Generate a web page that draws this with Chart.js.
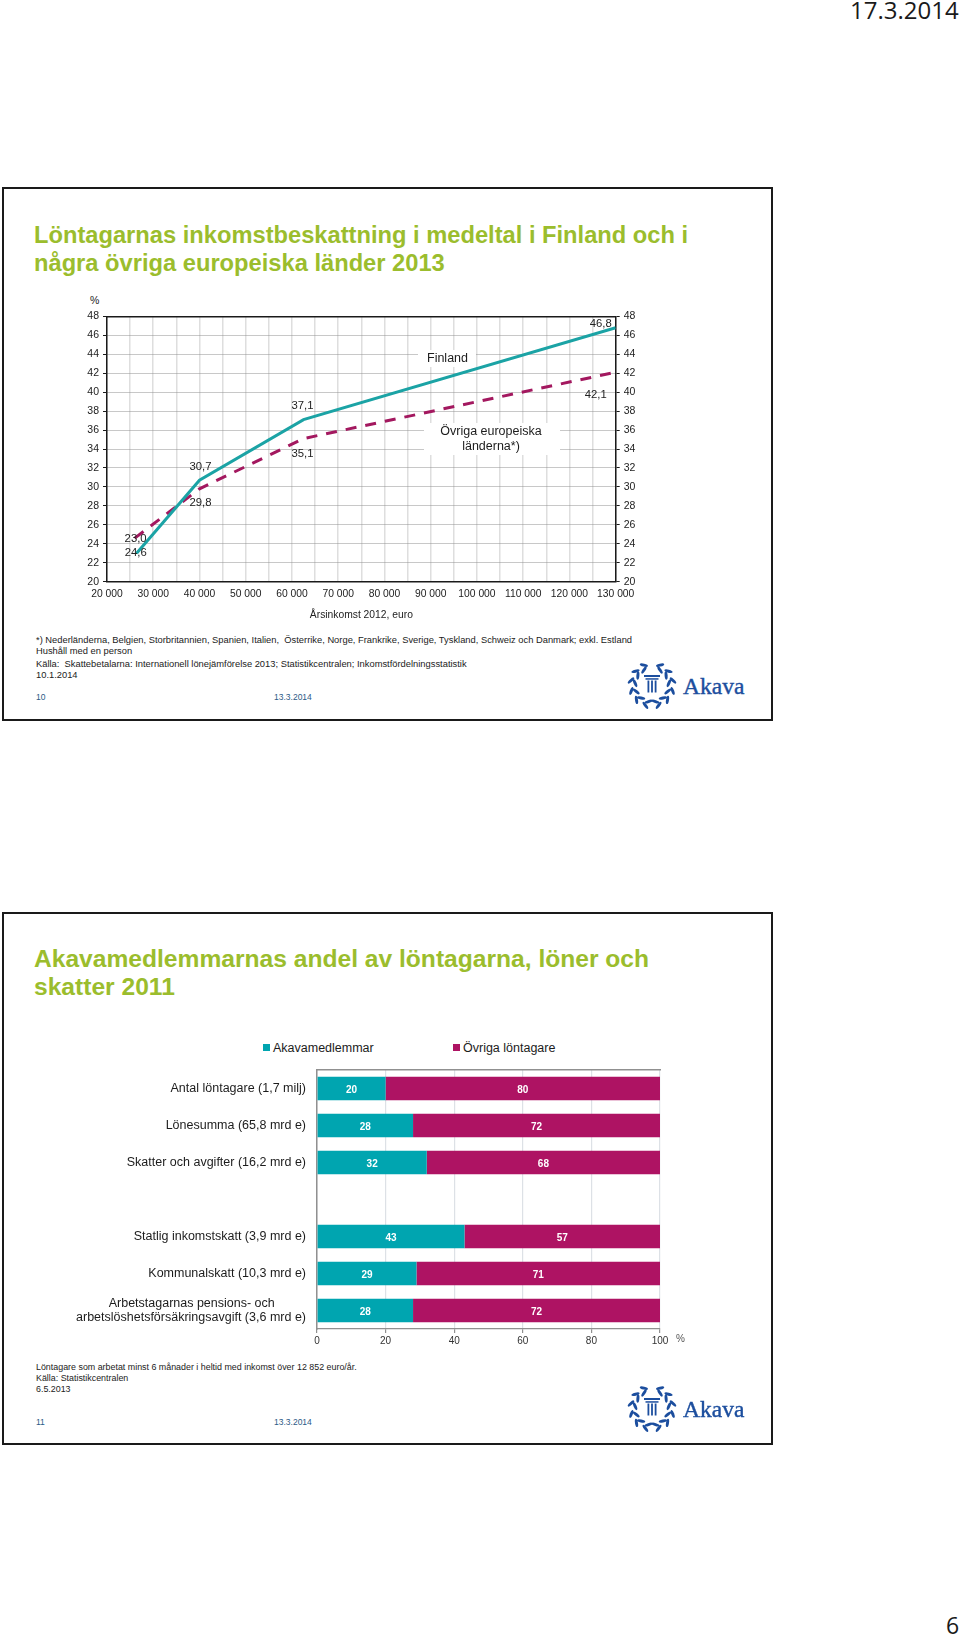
<!DOCTYPE html>
<html lang="sv">
<head>
<meta charset="utf-8">
<title>Akava</title>
<script src="https://cdn.jsdelivr.net/npm/chart.js@4"></script>
<style>
  html, body { margin: 0; padding: 0; background: #fff; }
  body { position: relative; width: 960px; height: 1635px; overflow: hidden; font-family: "Liberation Sans", Arial, sans-serif; color: #1c1c1c; }
  .frame { position: absolute; left: 2px; width: 767px; border: 2.5px solid #1a1a1a; box-sizing: content-box; }
  .t { position: absolute; white-space: pre; line-height: 1; }
  .title { font-weight: bold; font-size: 24.6px; color: #9bbd2d; left: 34px; }
  .foot { font-size: 9.35px; left: 36px; color: #222; }
  .foot2 { font-size: 8.9px; }
  .num { font-size: 8.5px; color: #2c5a86; }
  .box { position: absolute; background: #fff; }
  canvas { position: absolute; }
  .logo { position: absolute; left: 624px; width: 56px; height: 56px; }
  .akava { font-family: "Liberation Serif", serif; font-size: 23.5px; color: #1c4e9e; left: 683px; -webkit-text-stroke: 0.4px #1c4e9e; }
  .legend { position: absolute; top: 1041px; font-size: 12.5px; height: 14px; line-height: 14px; white-space: pre; }
  .legend i { display: inline-block; width: 7px; height: 7px; margin-right: 3px; vertical-align: 1px; }
</style>
</head>
<body>
<div class="frame" style="top:187px;height:530px"></div>
<div class="frame" style="top:912px;height:529px"></div>

<div class="t" style="left:850px;top:-7px;font:24px 'Open Sans',sans-serif;color:#1a1a1a">17.3.2014</div>
<div class="t" style="left:946px;top:1609px;font:23px 'Open Sans',sans-serif;color:#1a1a1a">6</div>

<div class="t title" style="top:224px;font-size:23.7px">Löntagarnas inkomstbeskattning i medeltal i Finland och i</div>
<div class="t title" style="top:252px;font-size:23.7px">några övriga europeiska länder 2013</div>

<div class="t" style="left:90px;top:295px;font-size:10.5px">%</div>
<canvas id="taxChart" style="left:40px;top:300px" width="640" height="330"></canvas>
<div class="box" style="left:418px;top:350px;width:58px;height:17px"></div>
<div class="t" style="left:427px;top:352px;font-size:12.5px">Finland</div>
<div class="box" style="left:424px;top:423px;width:136px;height:32px"></div>
<div class="t" style="left:424px;top:424px;width:134px;text-align:center;font-size:12.5px;line-height:15px">Övriga europeiska
länderna*)</div>

<div class="t foot" style="top:636px">*) Nederländerna, Belgien, Storbritannien, Spanien, Italien,  Österrike, Norge, Frankrike, Sverige, Tyskland, Schweiz och Danmark; exkl. Estland</div>
<div class="t foot" style="top:647px">Hushåll med en person</div>
<div class="t foot" style="top:660px">Källa:  Skattebetalarna: Internationell lönejämförelse 2013; Statistikcentralen; Inkomstfördelningsstatistik</div>
<div class="t foot" style="top:671px">10.1.2014</div>
<div class="t num" style="left:36px;top:693px">10</div>
<div class="t num" style="left:274px;top:693px">13.3.2014</div>
<svg class="logo" style="top:657px" viewBox="-28 -28 56 56"></svg>
<div class="t akava" style="top:675px">Akava</div>

<div class="t title" style="top:947px">Akavamedlemmarnas andel av löntagarna, löner och</div>
<div class="t title" style="top:975px">skatter 2011</div>

<div class="legend" id="legendA" style="left:263px"></div>
<div class="legend" id="legendB" style="left:453px"></div>
<canvas id="shareChart" style="left:40px;top:1040px" width="660" height="319"></canvas>
<div class="t" style="left:676px;top:1334px;font-size:10px;color:#555">%</div>

<div class="t foot foot2" style="top:1363px">Löntagare som arbetat minst 6 månader i heltid med inkomst över 12 852 euro/år.</div>
<div class="t foot foot2" style="top:1374px">Källa: Statistikcentralen</div>
<div class="t foot foot2" style="top:1385px">6.5.2013</div>
<div class="t num" style="left:36px;top:1418px">11</div>
<div class="t num" style="left:274px;top:1418px">13.3.2014</div>
<svg class="logo" style="top:1380px" viewBox="-28 -28 56 56"></svg>
<div class="t akava" style="top:1398px">Akava</div>

<script>
// --- DATA: line chart ---
const finlandIncome = [26400, 40000, 62500, 130000];
const finlandTax = [23.0, 30.7, 37.1, 46.8];
const europeIncome = [26000, 40000, 62500, 130000];
const europeTax = [24.6, 29.8, 35.1, 42.1];
const incomeTicks = [20000, 130000];
const taxTicks = [20, 48];

// --- DATA: bar chart ---
const shareCategories = [
  "Antal löntagare (1,7 milj)",
  "Lönesumma (65,8 mrd e)",
  "Skatter och avgifter (16,2 mrd e)",
  "",
  "Statlig inkomstskatt (3,9 mrd e)",
  "Kommunalskatt (10,3 mrd e)",
  ["Arbetstagarnas pensions- och\u00a0\u00a0\u00a0\u00a0\u00a0\u00a0\u00a0\u00a0\u00a0", "arbetslöshetsförsäkringsavgift (3,6 mrd e)"],
];
const akavaShare = [20, 28, 32, null, 43, 29, 28];
const otherShare = [80, 72, 68, null, 57, 71, 72];
const seriesNames = ["Akavamedlemmar", "Övriga löntagare"];

const TEAL_LINE = "#1ba3a5";
const PURPLE_LINE = "#a3185f";
const TEAL_BAR = "#00a5b0";
const PURPLE_BAR = "#ae1363";

Chart.defaults.font.family = '"Liberation Sans", Arial, sans-serif';
Chart.defaults.animation = false;
Chart.defaults.color = "#222";

// value labels next to the knee points (offset from the point, px)
const taxLabelOffsets = {
  0: [[-1, -14], [1, -13.6], [-1, -13.6], [-15, -3.6]],
  1: [[1, 15], [1, 14.5], [-1, 15], [-20, 22.5]],
};

const taxLabelPlugin = {
  id: "taxLabels",
  afterDatasetsDraw(chart) {
    const { ctx, scales } = chart;
    ctx.save();
    ctx.font = '11.3px "Liberation Sans"';
    ctx.fillStyle = "#222";
    ctx.textAlign = "center";
    ctx.textBaseline = "middle";
    chart.data.datasets.forEach((ds, i) => {
      ds.data.forEach((p, j) => {
        const [dx, dy] = taxLabelOffsets[i][j];
        const txt = p.y.toFixed(1).replace(".", ",");
        ctx.fillText(txt, scales.x.getPixelForValue(p.x) + dx, scales.y.getPixelForValue(p.y) + dy);
      });
    });
    ctx.restore();
  },
};

const incomeLabel = (v) => (v % 10000 === 0 ? String(v).replace(/(\d)(000)$/, "$1 $2") : "");

new Chart(document.getElementById("taxChart"), {
  type: "line",
  data: {
    datasets: [
      {
        label: "Finland",
        data: finlandIncome.map((x, i) => ({ x, y: finlandTax[i] })),
        borderColor: TEAL_LINE,
        borderWidth: 3,
        pointRadius: 0,
        tension: 0,
      },
      {
        label: "Övriga europeiska länderna*)",
        data: europeIncome.map((x, i) => ({ x, y: europeTax[i] })),
        borderColor: PURPLE_LINE,
        borderWidth: 3,
        borderDash: [11, 9],
        pointRadius: 0,
        tension: 0,
      },
    ],
  },
  options: {
    responsive: false,
    layout: { padding: { top: 16.3 } },
    plugins: { legend: { display: false }, tooltip: { enabled: false } },
    scales: {
      x: {
        type: "linear",
        min: incomeTicks[0],
        max: incomeTicks[1],
        afterFit: (s) => { s.height = 48.3; },
        title: { display: true, text: "Årsinkomst 2012, euro", font: { size: 10.3 }, color: "#222", padding: { top: 0, bottom: 9 } },
        ticks: { stepSize: 5000, autoSkip: false, maxRotation: 0, minRotation: 0, padding: 6, font: { size: 10.3 }, color: "#222", callback: incomeLabel },
        grid: { color: "#dedede", lineWidth: 1.5, drawTicks: false },
        border: { color: "#1a1a1a", width: 1.5 },
      },
      xTop: {
        type: "linear",
        position: "top",
        min: incomeTicks[0],
        max: incomeTicks[1],
        afterFit: (s) => { s.height = 0; },
        ticks: { display: false },
        grid: { drawOnChartArea: false, drawTicks: false },
        border: { color: "#1a1a1a", width: 1.5 },
      },
      y: {
        min: taxTicks[0],
        max: taxTicks[1],
        afterFit: (s) => { s.width = 67; },
        ticks: { stepSize: 2, padding: 4, font: { size: 10.5 }, color: "#222", autoSkip: false },
        grid: { color: "#909090", lineWidth: 1, tickColor: "#1a1a1a", tickLength: 4 },
        border: { color: "#1a1a1a", width: 1.5, dash: [1, 1] },
      },
      yRight: {
        position: "right",
        min: taxTicks[0],
        max: taxTicks[1],
        afterFit: (s) => { s.width = 64.3; },
        ticks: { stepSize: 2, padding: 4, font: { size: 10.5 }, color: "#222", autoSkip: false },
        grid: { drawOnChartArea: false, tickColor: "#1a1a1a", tickLength: 4 },
        border: { color: "#1a1a1a", width: 1.5 },
      },
    },
  },
  plugins: [taxLabelPlugin],
});

// white numbers inside the bars
const barLabelPlugin = {
  id: "barLabels",
  afterDatasetsDraw(chart) {
    const { ctx } = chart;
    ctx.save();
    ctx.font = 'bold 10px "Liberation Sans"';
    ctx.fillStyle = "#fff";
    ctx.textAlign = "center";
    ctx.textBaseline = "middle";
    chart.data.datasets.forEach((ds, i) => {
      chart.getDatasetMeta(i).data.forEach((bar, j) => {
        if (ds.data[j] == null) return;
        const c = bar.getCenterPoint();
        ctx.fillText(String(ds.data[j]), c.x, c.y + 2);
      });
    });
    ctx.restore();
  },
};

new Chart(document.getElementById("shareChart"), {
  type: "bar",
  data: {
    labels: shareCategories,
    datasets: [
      { label: seriesNames[0], data: akavaShare, backgroundColor: TEAL_BAR, stack: "s", categoryPercentage: 1, barPercentage: 0.637 },
      { label: seriesNames[1], data: otherShare, backgroundColor: PURPLE_BAR, stack: "s", categoryPercentage: 1, barPercentage: 0.637 },
    ],
  },
  options: {
    indexAxis: "y",
    responsive: false,
    layout: { padding: { top: 30, right: 40 } },
    plugins: { legend: { display: false }, tooltip: { enabled: false } },
    scales: {
      x: {
        stacked: true,
        min: 0,
        max: 100,
        afterFit: (s) => { s.height = 30; },
        ticks: { stepSize: 20, padding: 2, font: { size: 10 }, color: "#333", maxRotation: 0 },
        grid: { color: "#dde1e6", lineWidth: 1.2, tickColor: "#909090", tickLength: 4 },
        border: { color: "#909090", width: 1.2 },
      },
      xTop: {
        position: "top",
        min: 0,
        max: 100,
        afterFit: (s) => { s.height = 0; },
        ticks: { display: false },
        grid: { drawOnChartArea: false, drawTicks: false },
        border: { color: "#909090", width: 1.5 },
      },
      y: {
        stacked: true,
        afterFit: (s) => { s.width = 277; },
        ticks: { padding: 11, font: { size: 12.5, lineHeight: 1.15 }, color: "#1c1c1c", autoSkip: false },
        grid: { display: false, drawTicks: false },
        border: { color: "#909090", width: 1.5 },
      },
    },
  },
  plugins: [barLabelPlugin],
});

// legend markers
[["legendA", TEAL_BAR, seriesNames[0]], ["legendB", PURPLE_BAR, seriesNames[1]]].forEach(([id, color, name]) => {
  const el = document.getElementById(id);
  el.innerHTML = `<i style="background:${color}"></i>${name}`;
});

// Akava logo: laurel wreath round a small column
function buildLogo(svg) {
  const BLUE = "#1c4e9e";
  const leaf = (r, deg, rot) => {
    const rad = (deg * Math.PI) / 180;
    const x = r * Math.sin(rad);
    const y = -r * Math.cos(rad);
    return `<ellipse cx="${x.toFixed(1)}" cy="${y.toFixed(1)}" rx="1.5" ry="4.2" fill="${BLUE}" transform="rotate(${rot} ${x.toFixed(1)} ${y.toFixed(1)})"/>`;
  };
  let out = "";
  for (const side of [-1, 1]) {
    for (let k = 0; k < 6; k++) {
      const deg = 22 + k * 28;
      out += leaf(21.5, side * deg, side * (deg + 55));
      out += leaf(17, side * (deg + 6), side * (deg + 125));
    }
  }
  out += `<rect x="-8" y="-10" width="16" height="2" fill="${BLUE}"/><rect x="-6.5" y="-6.8" width="13" height="1.5" fill="${BLUE}"/>`;
  for (const cx of [-4.5, -0.9, 2.7]) out += `<rect x="${cx}" y="-4.5" width="1.8" height="12" fill="${BLUE}"/>`;
  svg.innerHTML = out;
}
document.querySelectorAll("svg.logo").forEach(buildLogo);
</script>
</body>
</html>
